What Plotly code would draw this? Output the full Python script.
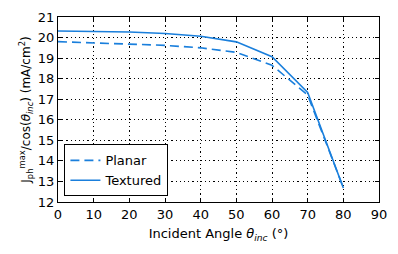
import plotly.graph_objects as go

angles = [0, 10, 20, 30, 40, 50, 60, 70, 80]
planar = [19.80, 19.75, 19.70, 19.62, 19.50, 19.28, 18.65, 17.20, 12.70]
textured = [20.32, 20.31, 20.27, 20.20, 20.06, 19.79, 19.07, 17.33, 12.68]
x_ticks = [0, 10, 20, 30, 40, 50, 60, 70, 80, 90]
y_ticks = [12, 13, 14, 15, 16, 17, 18, 19, 20, 21]

color = "#1a7fdc"
fig = go.Figure()
fig.add_trace(go.Scatter(x=angles, y=planar, mode="lines", name="Planar",
                         line=dict(color=color, width=1.6, dash="9px,5px")))
fig.add_trace(go.Scatter(x=angles, y=textured, mode="lines", name="Textured",
                         line=dict(color=color, width=1.6)))

axis_common = dict(showline=True, linecolor="black", linewidth=1.2, mirror="ticks",
                   ticks="inside", ticklen=4, tickcolor="black", showgrid=True,
                   gridcolor="black", griddash="1.2px,3px", gridwidth=1.2, zeroline=False,
                   automargin=False,
                   tickfont=dict(size=13, color="black"))
fig.update_xaxes(range=[0, 90], tickvals=x_ticks,
                 title=dict(text="Incident Angle <i>θ<sub>inc</sub></i> (°)", font=dict(size=13, color="black"), standoff=8),
                 **axis_common)
fig.update_yaxes(range=[12, 21], tickvals=y_ticks,
                 title=dict(text="J<sub>ph</sub><sup>max</sup>/cos(<i>θ<sub>inc</sub></i>) (mA/cm<sup>2</sup>)", font=dict(size=12, color="black"), standoff=4),
                 **axis_common)
fig.update_layout(width=398, height=254, margin=dict(l=58, r=19, t=17, b=52),
                  paper_bgcolor="white", plot_bgcolor="white",
                  font=dict(family="DejaVu Sans", color="black"),
                  legend=dict(x=0.02, y=0.03, xanchor="left", yanchor="bottom",
                              bgcolor="white", bordercolor="black", borderwidth=1,
                              font=dict(size=13), tracegroupgap=0),
                  showlegend=True)
fig.write_html("out.html", config={"displayModeBar": False},
               post_script="document.body.style.margin='0';")
